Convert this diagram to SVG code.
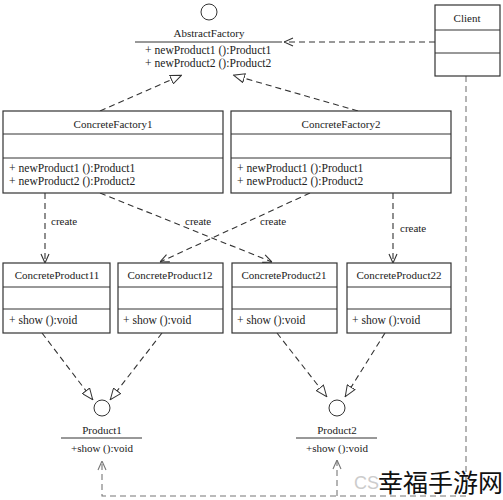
<svg xmlns="http://www.w3.org/2000/svg" width="503" height="500" viewBox="0 0 503 500" font-family="'Liberation Serif', 'Times New Roman', serif">
<style>
.box{fill:#fff;stroke:#333;stroke-width:1.2}
.div{stroke:#333;stroke-width:1}
.t{font-family:'Liberation Serif','Times New Roman',serif;font-size:11px;fill:#222}
.m{font-size:11.6px}
.c{text-anchor:middle}
.dash{fill:none;stroke:#333;stroke-width:1.1;stroke-dasharray:6 4}
.dashg{fill:none;stroke:#777;stroke-width:1.1;stroke-dasharray:6 4}
</style>
<defs>
<marker id="open" viewBox="0 0 10 10" refX="10" refY="5" markerWidth="10" markerHeight="10" markerUnits="userSpaceOnUse" orient="auto">
<path d="M1,1 L10,5 L1,9" fill="none" stroke="#333" stroke-width="1.1"/>
</marker>
<marker id="openg" viewBox="0 0 10 10" refX="10" refY="5" markerWidth="10" markerHeight="10" markerUnits="userSpaceOnUse" orient="auto">
<path d="M1,1 L10,5 L1,9" fill="none" stroke="#777" stroke-width="1.1"/>
</marker>
<marker id="tri" viewBox="0 0 12 10" refX="12" refY="5" markerWidth="12" markerHeight="10" markerUnits="userSpaceOnUse" orient="auto">
<path d="M0.5,0.5 L11.5,5 L0.5,9.5 Z" fill="#fff" stroke="#333" stroke-width="1"/>
</marker>
</defs>

<g id="connectors">
<path class="dash" d="M435,42 L284,42" marker-end="url(#open)"/>
<path class="dash" d="M100,111 L182,75" marker-end="url(#tri)"/>
<path class="dash" d="M358,111 L233,75" marker-end="url(#tri)"/>
<path class="dash" d="M45,193 L45,263" marker-end="url(#open)"/>
<path class="dash" d="M100,193 L272,262" marker-end="url(#open)"/>
<path class="dash" d="M310,193 L160,262" marker-end="url(#open)"/>
<path class="dash" d="M393,193 L393,263" marker-end="url(#open)"/>
<path class="dash" d="M42,333 L93,400" marker-end="url(#tri)"/>
<path class="dash" d="M162,333 L110,400" marker-end="url(#tri)"/>
<path class="dash" d="M277,333 L327,397" marker-end="url(#tri)"/>
<path class="dash" d="M385,333 L345,397" marker-end="url(#tri)"/>
<path class="dashg" d="M466,76 L466,496 L102,496 L102,461" marker-end="url(#openg)"/>
<path class="dashg" d="M337,496 L337,460" marker-end="url(#openg)"/>
<text class="t" x="51" y="225">create</text>
<text class="t" x="185" y="225">create</text>
<text class="t" x="260" y="225">create</text>
<text class="t" x="400" y="232">create</text>
</g>

<g id="AbstractFactory">
<circle cx="209" cy="12" r="8" fill="#fff" stroke="#333" stroke-width="1"/>
<text class="t c" x="209" y="37">AbstractFactory</text>
<line class="div" x1="135" y1="42" x2="282" y2="42"/>
<text class="t m" x="145" y="54">+ newProduct1 ():Product1</text>
<text class="t m" x="145" y="67">+ newProduct2 ():Product2</text>
</g>

<g id="Client">
<rect class="box" x="435" y="5" width="65" height="71"/>
<line class="div" x1="435" y1="30" x2="500" y2="30"/>
<line class="div" x1="435" y1="53" x2="500" y2="53"/>
<text class="t c" x="467" y="22">Client</text>
</g>

<g id="ConcreteFactory1">
<rect class="box" x="3" y="111" width="220" height="82"/>
<line class="div" x1="3" y1="134" x2="223" y2="134"/>
<line class="div" x1="3" y1="158" x2="223" y2="158"/>
<text class="t c" x="113" y="128">ConcreteFactory1</text>
<text class="t m" x="9" y="172">+ newProduct1 ():Product1</text>
<text class="t m" x="9" y="185">+ newProduct2 ():Product2</text>
</g>

<g id="ConcreteFactory2">
<rect class="box" x="231" y="111" width="220" height="82"/>
<line class="div" x1="231" y1="134" x2="451" y2="134"/>
<line class="div" x1="231" y1="158" x2="451" y2="158"/>
<text class="t c" x="341" y="128">ConcreteFactory2</text>
<text class="t m" x="237" y="172">+ newProduct1 ():Product1</text>
<text class="t m" x="237" y="185">+ newProduct2 ():Product2</text>
</g>

<g id="ConcreteProduct11">
<rect class="box" x="3" y="263" width="107" height="70"/>
<line class="div" x1="3" y1="287" x2="110" y2="287"/>
<line class="div" x1="3" y1="309" x2="110" y2="309"/>
<text class="t c" x="57" y="279">ConcreteProduct11</text>
<text class="t m" x="9" y="324">+ show ():void</text>
</g>

<g id="ConcreteProduct12">
<rect class="box" x="118" y="263" width="105" height="70"/>
<line class="div" x1="118" y1="287" x2="223" y2="287"/>
<line class="div" x1="118" y1="309" x2="223" y2="309"/>
<text class="t c" x="170" y="279">ConcreteProduct12</text>
<text class="t m" x="123" y="324">+ show ():void</text>
</g>

<g id="ConcreteProduct21">
<rect class="box" x="232" y="263" width="105" height="70"/>
<line class="div" x1="232" y1="287" x2="337" y2="287"/>
<line class="div" x1="232" y1="309" x2="337" y2="309"/>
<text class="t c" x="284" y="279">ConcreteProduct21</text>
<text class="t m" x="237" y="324">+ show ():void</text>
</g>

<g id="ConcreteProduct22">
<rect class="box" x="347" y="263" width="104" height="70"/>
<line class="div" x1="347" y1="287" x2="451" y2="287"/>
<line class="div" x1="347" y1="309" x2="451" y2="309"/>
<text class="t c" x="399" y="279">ConcreteProduct22</text>
<text class="t m" x="352" y="324">+ show ():void</text>
</g>

<g id="Product1">
<circle cx="102" cy="408" r="8" fill="#fff" stroke="#333" stroke-width="1"/>
<text class="t c" x="102" y="434">Product1</text>
<line class="div" x1="61" y1="438" x2="142" y2="438"/>
<text class="t c" x="102" y="452">+show ():void</text>
</g>

<g id="Product2">
<circle cx="337" cy="408" r="8" fill="#fff" stroke="#333" stroke-width="1"/>
<text class="t c" x="337" y="434">Product2</text>
<line class="div" x1="296" y1="438" x2="377" y2="438"/>
<text class="t c" x="337" y="452">+show ():void</text>
</g>

<g id="watermark">
<text x="354" y="489" font-family="'Liberation Sans', Arial, sans-serif" font-size="18" fill="#ccc">CS</text>
<text x="378" y="492" font-family="'Noto Sans CJK SC', sans-serif" font-size="25" fill="#111">幸福手游网</text>
</g>
</svg>
